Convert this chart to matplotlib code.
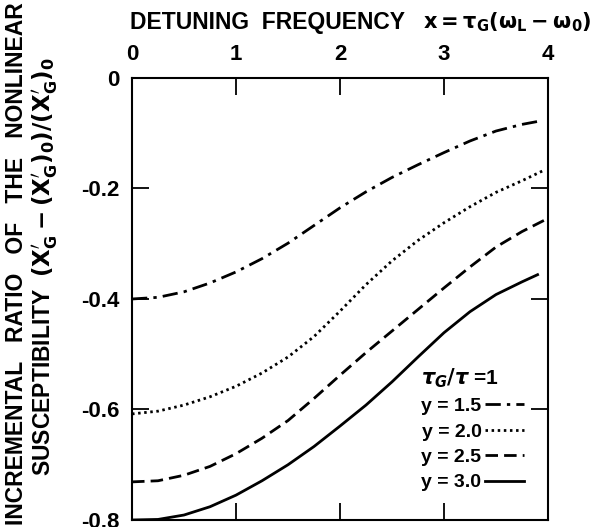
import matplotlib
matplotlib.use("Agg")
import matplotlib.pyplot as plt

plt.rcParams['font.family'] = ['Liberation Sans', 'DejaVu Sans']
plt.rcParams['font.weight'] = 'bold'
plt.rcParams['mathtext.fontset'] = 'dejavusans'

# detuning frequency x
x_vals = [0.0, 0.25, 0.5, 0.75, 1.0, 1.25, 1.5, 1.75, 2.0, 2.25, 2.5, 2.75,
          3.0, 3.25, 3.5, 3.75]
x15_end, x20_end, x25_end, x30_end = 3.92, 3.95, 3.98, 3.9

y15 = [-0.400, -0.397, -0.387, -0.371, -0.351, -0.327, -0.299, -0.267, -0.235,
       -0.206, -0.180, -0.157, -0.135, -0.114, -0.096, -0.084, -0.078]
y20 = [-0.608, -0.603, -0.592, -0.577, -0.558, -0.534, -0.505, -0.468, -0.422,
       -0.374, -0.331, -0.294, -0.262, -0.233, -0.207, -0.186, -0.168]
y25 = [-0.731, -0.729, -0.719, -0.703, -0.680, -0.652, -0.620, -0.580, -0.538,
       -0.497, -0.458, -0.419, -0.380, -0.342, -0.306, -0.278, -0.256]
y30 = [-0.800, -0.799, -0.791, -0.776, -0.755, -0.729, -0.700, -0.667, -0.630,
       -0.592, -0.550, -0.505, -0.461, -0.423, -0.392, -0.369, -0.356]

series_labels = ["y = 1.5", "y = 2.0", "y = 2.5", "y = 3.0"]
legend_title = r"$\tau_G/\tau$ =1"
x_ticks = [0, 1, 2, 3, 4]
x_tick_labels = ["0", "1", "2", "3", "4"]
y_ticks = [0, -0.2, -0.4, -0.6, -0.8]
y_tick_labels = ["0", "-0.2", "-0.4", "-0.6", "-0.8"]

fig = plt.figure(figsize=(5.91, 5.27), dpi=100)
ax = fig.add_axes([0.2234, 0.0133, 0.9272 - 0.2234, 0.852 - 0.0133])

lw = 2.0
ax.plot(x_vals + [x15_end], y15, color='black', lw=lw,
        dashes=(5.5, 2.2, 1.2, 2.2), label=series_labels[0])
ax.plot(x_vals + [x20_end], y20, color='black', lw=lw,
        dashes=(0.9, 1.3), label=series_labels[1])
ax.plot(x_vals + [x25_end], y25, color='black', lw=lw,
        dashes=(4.5, 2.2), label=series_labels[2])
ax.plot(x_vals + [x30_end], y30, color='black', lw=lw, label=series_labels[3])

ax.set_xlim(0, 4)
ax.set_ylim(-0.8, 0)
ax.set_xticks(x_ticks)
ax.set_xticklabels(x_tick_labels)
ax.set_yticks(y_ticks)
ax.set_yticklabels(y_tick_labels)
ax.tick_params(direction='in', length=12, width=1.3, top=True, right=True,
               labeltop=True, labelbottom=False, labelsize=16, pad=9)
for s in ax.spines.values():
    s.set_linewidth(1.5)

leg = ax.legend(loc='lower right', bbox_to_anchor=(0.985, 0.025), frameon=False,
                markerfirst=False, fontsize=14, handlelength=2.0, handletextpad=0.2,
                labelspacing=0.4, title=legend_title, title_fontsize=15)
leg._legend_box.align = "left"

fig.text(0.22, 0.958, "DETUNING  FREQUENCY", fontsize=16.5, fontweight='bold',
         ha='left', va='center')
fig.text(0.715, 0.958, r"$\mathbf{x = \tau_G(\omega_L - \omega_0)}$", fontsize=15,
         ha='left', va='center')

fig.text(0.028, 0.5, "INCREMENTAL   RATIO   OF   THE   NONLINEAR", rotation=90,
         fontsize=16.5, fontweight='bold', ha='center', va='center')
fig.text(0.077, 0.495,
         r"SUSCEPTIBILITY  $\mathbf{(X_G^{\prime} - (X_G^{\prime})_0)/(X_G^{\prime})_0}$",
         rotation=90, fontsize=16.5, fontweight='bold', ha='center', va='center')

fig.savefig("out.png", dpi=100)
